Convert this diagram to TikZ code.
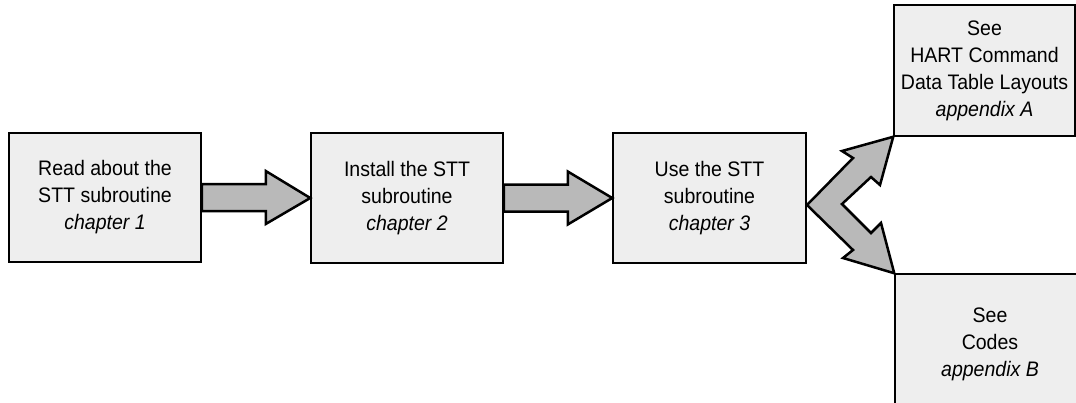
\documentclass[tikz,border=0pt]{standalone}
\usepackage{fontspec}
\setmainfont[FakeStretch=0.93]{Liberation Sans}
\usepackage{tikz}
\usetikzlibrary{calc}

\begin{document}
\begin{tikzpicture}[x=1pt,y=-1pt,
    box/.style={draw=black,line width=1.5pt,fill=boxgray,inner sep=0pt,align=center,
        font=\fontsize{21}{27}\selectfont},
    blockarrow/.style={draw=black,line width=2.5pt,fill=arrowgray,line join=miter}]
    \definecolor{boxgray}{RGB}{238,238,238}
    \definecolor{arrowgray}{RGB}{185,185,185}
    \useasboundingbox (0,0) rectangle (1076,402);
    \clip (0,0) rectangle (1076,402);
    % the three steps
    \node[box,minimum width=192,minimum height=129] (read) at (105,197.5)
        {Read about the\\STT subroutine\\\textit{chapter 1}};
    \node[box,minimum width=192,minimum height=130] (install) at (407,198)
        {Install the STT\\subroutine\\\textit{chapter 2}};
    \node[box,minimum width=193,minimum height=130] (use) at (709.5,198)
        {Use the STT\\subroutine\\\textit{chapter 3}};
    % the two appendices
    \node[box,minimum width=181,minimum height=131] (seeA) at (984.5,70.5)
        {See\\HART Command\\Data Table Layouts\\\textit{appendix A}};
    \node[box,minimum width=190,minimum height=140] (seeB) at (990,344)
        {See\\Codes\\\textit{appendix B}};
    % edit here for the block arrows
    \foreach \a/\b in {read/install,install/use}
    \draw[blockarrow] ($(\a.east)+(0,-13.5)$) -- ++(64,0) -- ++(0,-13)
        -- (\b.west) -- ($(\a.east)+(64,26.5)$) -- ++(0,-13)
        -- ($(\a.east)+(0,13.5)$) -- cycle;
    % forked arrow to the appendices
    \draw[blockarrow] (807,205) -- (853,158) -- (842,151) -- (seeA.south west)
        -- (880,185) -- (871,177) -- (842,204) -- (871,233) -- (881,223)
        -- (seeB.north west) -- (843,258) -- (853,250) -- cycle;
\end{tikzpicture}
\end{document}
